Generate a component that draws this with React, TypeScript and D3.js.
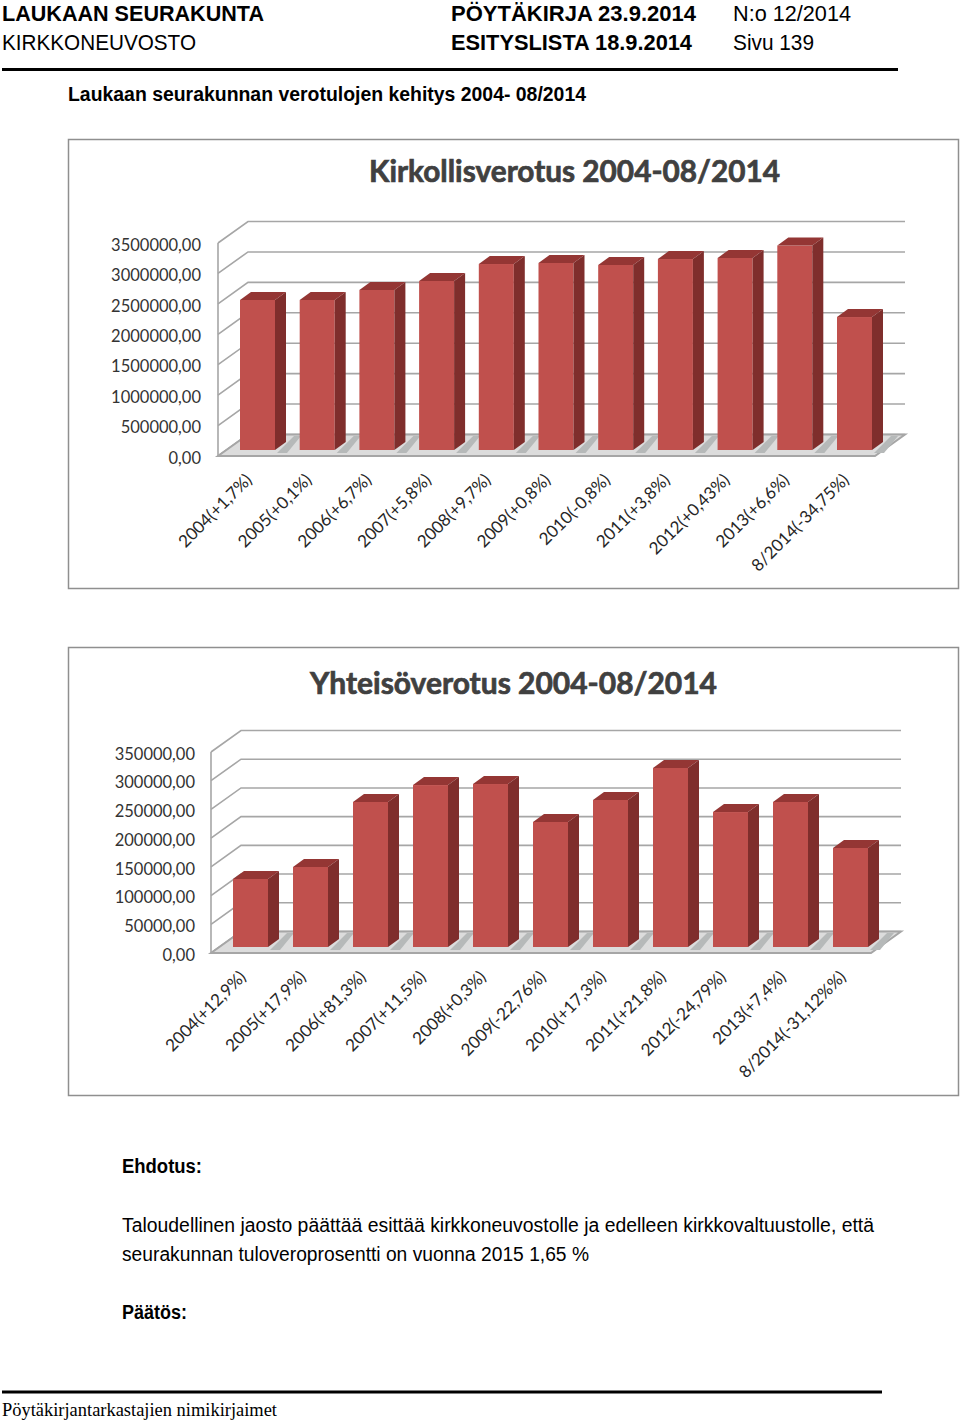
import { useEffect, useRef } from 'react';
import * as d3 from 'd3';

const churchCategories = ['2004(+1,7%)', '2005(+0,1%)', '2006(+6,7%)', '2007(+5,8%)', '2008(+9,7%)', '2009(+0,8%)', '2010(-0,8%)', '2011(+3,8%)', '2012(+0,43%)', '2013(+6,6%)', '8/2014(-34,75%)'];
const churchValues = [2465000, 2465000, 2630000, 2777000, 3056000, 3073000, 3040000, 3138000, 3155000, 3360000, 2185000];
const churchTicks = [0, 500000, 1000000, 1500000, 2000000, 2500000, 3000000, 3500000];

const corporateCategories = ['2004(+12,9%)', '2005(+17,9%)', '2006(+81,3%)', '2007(+11,5%)', '2008(+0,3%)', '2009(-22,76%)', '2010(+17,3%)', '2011(+21,8%)', '2012(-24,79%)', '2013(+7,4%)', '8/2014(-31,12%%)'];
const corporateValues = [118400, 139300, 252500, 282000, 283800, 217700, 256000, 311700, 235000, 252500, 172400];
const corporateTicks = [0, 50000, 100000, 150000, 200000, 250000, 300000, 350000];

const axisFont = 'Lato, "Open Sans", sans-serif';
const formatTick = (d: d3.NumberValue) => `${d},00`;

interface ChartSpec {
  title: string;
  titleX: number;
  titleY: number;
  titleWidth: number;
  categories: string[];
  values: number[];
  ticks: number[];
  frameY: number;
  frameH: number;
  axisX: number;
  axisTop: number;
  axisBottom: number;
  firstBar: number;
  barStep: number;
  backRight: number;
  tickGap: number;
  labelDx: number;
}

function drawChart(root: d3.Selection<SVGGElement, unknown, null, undefined>, c: ChartSpec) {
  const depthX = 30;
  const depthY = 21.5;
  const barW = 35;
  const barDx = 11;
  const barDy = 8;
  const maxV = c.ticks[c.ticks.length - 1];

  root.append('rect')
    .attr('x', 68.5).attr('y', c.frameY)
    .attr('width', 890).attr('height', c.frameH)
    .attr('fill', '#fff').attr('stroke', '#8f8f8f').attr('stroke-width', 1.5);

  root.append('text')
    .attr('x', c.titleX).attr('y', c.titleY)
    .attr('textLength', c.titleWidth).attr('lengthAdjust', 'spacingAndGlyphs')
    .style('font-family', axisFont).style('font-size', '30px').style('font-weight', 700)
    .attr('fill', '#404040').attr('stroke', '#404040').attr('stroke-width', 0.7)
    .text(c.title);

  const y = d3.scaleLinear().domain([0, maxV]).range([c.axisBottom, c.axisTop]);

  // back wall gridlines and the slanted side wall
  const grid = root.append('g').attr('fill', 'none').attr('stroke', '#a6a6a6').attr('stroke-width', 1.6);
  c.ticks.forEach(t => {
    grid.append('path').attr('d', d3.line()([
      [c.axisX, y(t)],
      [c.axisX + depthX, y(t) - depthY],
      [c.backRight, y(t) - depthY],
    ]));
  });
  grid.append('line')
    .attr('x1', c.axisX).attr('x2', c.axisX)
    .attr('y1', c.axisTop).attr('y2', c.axisBottom);

  // floor
  const floorRight = c.backRight - depthX;
  root.append('polygon')
    .attr('points', [
      [c.axisX, c.axisBottom],
      [c.axisX + depthX, c.axisBottom - depthY],
      [c.backRight, c.axisBottom - depthY],
      [floorRight, c.axisBottom],
    ].join(' '))
    .attr('fill', '#dcdcdc').attr('stroke', '#a6a6a6').attr('stroke-width', 2);

  const x = d3.scaleBand<string>()
    .domain(c.categories)
    .range([c.firstBar, c.firstBar + c.barStep * c.categories.length])
    .paddingInner(0)
    .paddingOuter(0);

  const baseY = c.axisBottom - 6;
  const barY = d3.scaleLinear().domain([0, maxV]).range([baseY, baseY - (c.axisBottom - c.axisTop)]);

  const bars = root.append('g');
  c.categories.forEach((cat, i) => {
    const x0 = x(cat) as number;
    const top = barY(c.values[i]);
    const g = bars.append('g');
    // shadow on the floor
    g.append('polygon')
      .attr('points', [
        [x0 + barW + 2, baseY + 3],
        [x0 + barW + barDx + 8, baseY - barDy - 6],
        [x0 + barW + barDx + 15, baseY - barDy - 6],
        [x0 + barW + 12, baseY + 3],
      ].join(' '))
      .attr('fill', '#b6b9b9');
    g.append('rect')
      .attr('x', x0).attr('y', top)
      .attr('width', barW).attr('height', baseY - top)
      .attr('fill', '#c0504d');
    g.append('polygon')
      .attr('points', [
        [x0, top],
        [x0 + barDx, top - barDy],
        [x0 + barW + barDx, top - barDy],
        [x0 + barW, top],
      ].join(' '))
      .attr('fill', '#943634');
    g.append('polygon')
      .attr('points', [
        [x0 + barW, top],
        [x0 + barW + barDx, top - barDy],
        [x0 + barW + barDx, baseY - barDy],
        [x0 + barW, baseY],
      ].join(' '))
      .attr('fill', '#7f2e2c');
  });

  // value axis, labels only
  const yAxis = root.append('g')
    .attr('transform', `translate(${c.axisX - c.tickGap},2)`)
    .call(d3.axisLeft(y).tickValues(c.ticks).tickSize(0).tickPadding(0).tickFormat(formatTick));
  yAxis.select('.domain').remove();
  yAxis.selectAll('text')
    .style('font-family', axisFont).style('font-size', '16.5px')
    .attr('fill', '#333333');

  // category labels, rotated
  root.append('g').selectAll('text')
    .data(c.categories)
    .enter().append('text')
    .attr('text-anchor', 'end')
    .attr('transform', d => `translate(${(x(d) as number) + c.labelDx},${c.axisBottom + 25}) rotate(-45)`)
    .style('font-family', axisFont).style('font-size', '17px')
    .attr('fill', '#262626')
    .text(d => d);
}

const pageTexts: [string, number, number, number, string, number, string][] = [
  ['LAUKAAN SEURAKUNTA', 2, 20.5, 262, 'Liberation Sans', 700, '22px'],
  ['KIRKKONEUVOSTO', 2, 49.5, 194, 'Liberation Sans', 400, '22px'],
  ['PÖYTÄKIRJA 23.9.2014', 451, 20.5, 245, 'Liberation Sans', 700, '22px'],
  ['ESITYSLISTA 18.9.2014', 451, 49.5, 241, 'Liberation Sans', 700, '22px'],
  ['N:o 12/2014', 733, 20.5, 118, 'Liberation Sans', 400, '22px'],
  ['Sivu 139', 733, 49.5, 81, 'Liberation Sans', 400, '22px'],
  ['Laukaan seurakunnan verotulojen kehitys 2004- 08/2014', 68, 101, 518, 'Liberation Sans', 700, '20px'],
  ['Ehdotus:', 122, 1173, 80, 'Liberation Sans', 700, '20px'],
  ['Taloudellinen jaosto päättää esittää kirkkoneuvostolle ja edelleen kirkkovaltuustolle, että', 122, 1232, 752, 'Liberation Sans', 400, '20px'],
  ['seurakunnan tuloveroprosentti on vuonna 2015 1,65 %', 122, 1261, 467, 'Liberation Sans', 400, '20px'],
  ['Päätös:', 122, 1319, 65, 'Liberation Sans', 700, '20px'],
  ['Pöytäkirjantarkastajien nimikirjaimet', 2, 1416, 275, 'Liberation Serif', 400, '19px'],
];

export default function App() {
  const ref = useRef<SVGSVGElement>(null);

  useEffect(() => {
    if (!ref.current) return;
    const svg = d3.select(ref.current);
    svg.selectAll('*').remove();
    const root = svg.append('g') as d3.Selection<SVGGElement, unknown, null, undefined>;

    root.selectAll('text.page')
      .data(pageTexts)
      .enter().append('text')
      .attr('class', 'page')
      .attr('x', d => d[1]).attr('y', d => d[2])
      .attr('textLength', d => d[3]).attr('lengthAdjust', 'spacingAndGlyphs')
      .style('font-family', d => d[4]).style('font-weight', d => d[5]).style('font-size', d => d[6])
      .attr('fill', '#000')
      .text(d => d[0]);

    root.append('line').attr('x1', 2).attr('x2', 898).attr('y1', 69.5).attr('y2', 69.5)
      .attr('stroke', '#000').attr('stroke-width', 3);
    root.append('line').attr('x1', 2).attr('x2', 882).attr('y1', 1392).attr('y2', 1392)
      .attr('stroke', '#000').attr('stroke-width', 3);

    drawChart(root, {
      title: 'Kirkollisverotus 2004-08/2014', titleX: 369, titleY: 182, titleWidth: 411,
      categories: churchCategories, values: churchValues, ticks: churchTicks,
      frameY: 139.5, frameH: 449, axisX: 218, axisTop: 243, axisBottom: 456,
      firstBar: 240, barStep: 59.7, backRight: 905, tickGap: 17, labelDx: 13,
    });
    drawChart(root, {
      title: 'Yhteisöverotus 2004-08/2014', titleX: 310, titleY: 694, titleWidth: 407,
      categories: corporateCategories, values: corporateValues, ticks: corporateTicks,
      frameY: 647.5, frameH: 448, axisX: 211, axisTop: 752, axisBottom: 953,
      firstBar: 233, barStep: 60, backRight: 901, tickGap: 16, labelDx: 14,
    });
  }, []);

  return (
    <svg ref={ref} width={960} height={1421}
      style={{ position: 'absolute', left: 0, top: 0, display: 'block' }} />
  );
}
